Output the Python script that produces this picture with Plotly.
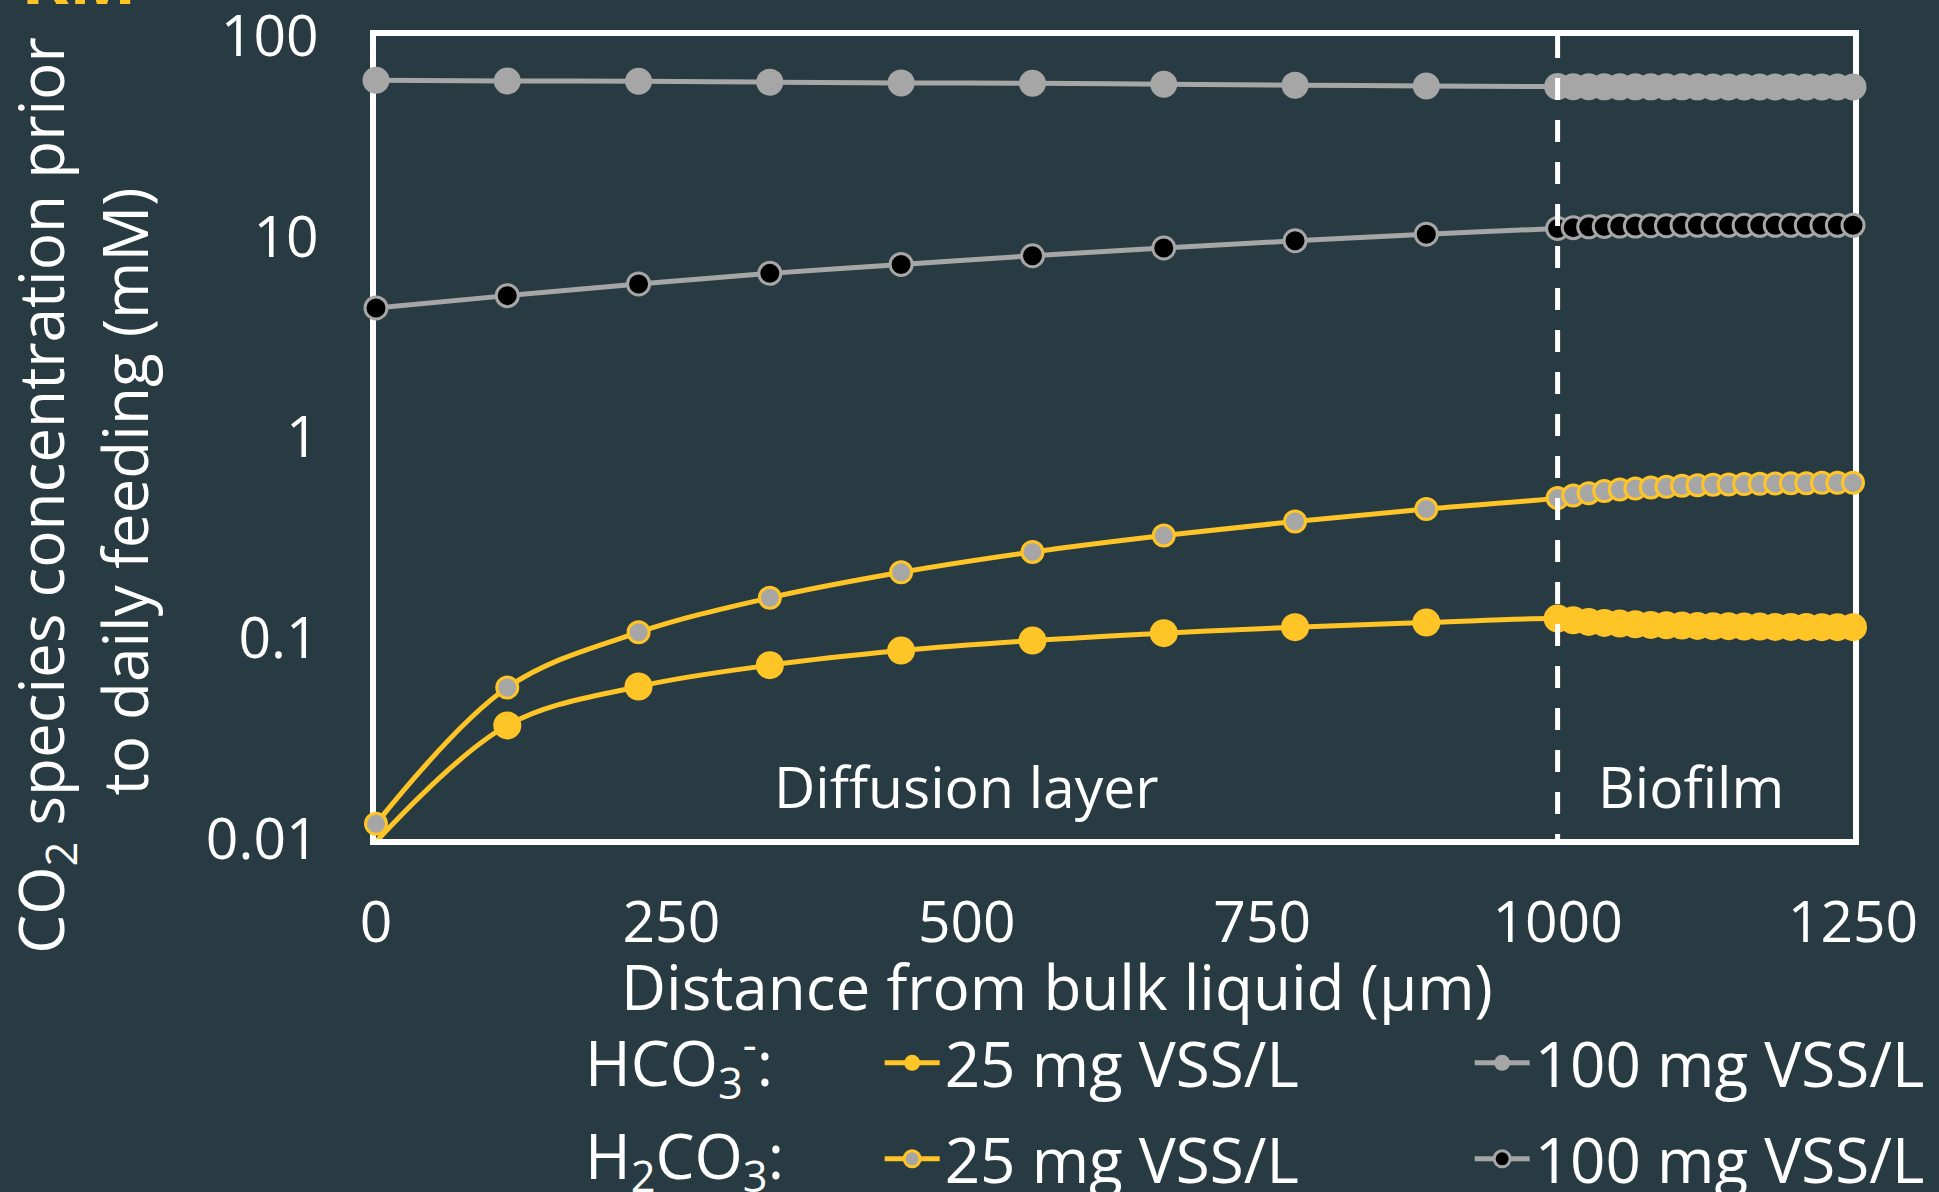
import plotly.graph_objects as go

# ---------------- data ----------------
distance_diffusion = [0, 111.1, 222.2, 333.3, 444.4, 555.6, 666.7, 777.8, 888.9, 1000]
distance_biofilm = [1013.2, 1026.3, 1039.5, 1052.6, 1065.8, 1078.9, 1092.1, 1105.3, 1118.4,
                    1131.6, 1144.7, 1157.9, 1171.1, 1184.2, 1197.4, 1210.5, 1223.7, 1236.8, 1250]

hco3_25_diffusion = [0.0097, 0.0368, 0.0575, 0.0734, 0.0868, 0.0974, 0.106, 0.1135, 0.1197, 0.1253]
hco3_25_biofilm = [0.1229, 0.1206, 0.1192, 0.1184, 0.1174, 0.1165, 0.1161, 0.1157, 0.1152, 0.1148,
                   0.1148, 0.1144, 0.1144, 0.1139, 0.1139, 0.1139, 0.1135, 0.1135, 0.1135]

hco3_100_diffusion = [60.2, 59.7, 59.5, 58.9, 58.4, 58.2, 57.5, 56.9, 56.4, 56.0]
hco3_100_biofilm = [55.9, 55.9, 55.8, 55.8, 55.8, 55.8, 55.8, 55.8, 55.8, 55.7,
                    55.7, 55.7, 55.7, 55.7, 55.7, 55.7, 55.7, 55.7, 55.7]

h2co3_25_diffusion = [0.0119, 0.0568, 0.107, 0.159, 0.213, 0.269, 0.325, 0.382, 0.440, 0.499]
h2co3_25_biofilm = [0.514, 0.528, 0.541, 0.551, 0.557, 0.564, 0.568, 0.575, 0.579, 0.582,
                    0.584, 0.586, 0.588, 0.590, 0.592, 0.592, 0.595, 0.595, 0.595]

h2co3_100_diffusion = [4.42, 5.09, 5.82, 6.57, 7.28, 8.04, 8.79, 9.55, 10.3, 11.0]
h2co3_100_biofilm = [11.1, 11.2, 11.25, 11.3, 11.3, 11.35, 11.35, 11.4, 11.4, 11.4,
                     11.4, 11.4, 11.4, 11.4, 11.4, 11.4, 11.4, 11.4, 11.4]

x_ticks = [0, 250, 500, 750, 1000, 1250]
y_ticks = [0.01, 0.1, 1, 10, 100]
y_tick_labels = ["0.01", "0.1", "1", "10", "100"]
boundary = 1000
series_names = ["25 mg VSS/L", "100 mg VSS/L"]

# ---------------- style ----------------
BG = "#293b42"
YELLOW = "#ffc425"
GRAY = "#a6a6a6"
BLACK = "#000000"
FONT = "Open Sans"

distance = distance_diffusion + distance_biofilm
y_min = min(y_ticks)


def sizes_for(values, size):
    # like Excel: markers below the axis minimum are not drawn
    return [size if v >= y_min else 0 for v in values]


fig = go.Figure()


def add(values, name, legend, line_color, fill, size, border_color, border_w, entry_w=None):
    fig.add_trace(go.Scatter(
        x=distance, y=values, name=name, legend=legend, legendwidth=entry_w,
        mode="lines+markers",
        line=dict(color=line_color, width=5, shape="spline", smoothing=1),
        marker=dict(size=sizes_for(values, size), color=fill, opacity=1,
                    line=dict(color=border_color, width=border_w)),
        cliponaxis=False,
    ))


add(hco3_25_diffusion + hco3_25_biofilm, series_names[0], "legend", YELLOW, YELLOW, 28, YELLOW, 0, 520)
add(hco3_100_diffusion + hco3_100_biofilm, series_names[1], "legend", GRAY, GRAY, 27, GRAY, 0)
add(h2co3_25_diffusion + h2co3_25_biofilm, series_names[0], "legend2", YELLOW, GRAY, 21, YELLOW, 3, 520)
add(h2co3_100_diffusion + h2co3_100_biofilm, series_names[1], "legend2", GRAY, BLACK, 22, GRAY, 3)

axis_common = dict(showgrid=False, zeroline=False, showline=True, linecolor="white",
                   linewidth=6, mirror=True, ticks="", layer="below traces",
                   ticklabeloverflow="allow",
                   tickfont=dict(family=FONT, size=57, color="white"))

legend_common = dict(orientation="h", xanchor="left", yanchor="middle",
                     itemwidth=55, bgcolor="rgba(0,0,0,0)",
                     font=dict(family=FONT, size=62, color="white"))

fig.update_layout(
    width=1939, height=1192,
    margin=dict(l=376, r=86, t=36, b=353, pad=0, autoexpand=False),
    paper_bgcolor=BG, plot_bgcolor=BG,
    font=dict(family=FONT, color="white", size=60),
    xaxis=dict(range=[0, 1250], tickvals=x_ticks, ticklabelstandoff=29, **axis_common),
    yaxis=dict(type="log", range=[-2, 2], tickvals=y_ticks, ticktext=y_tick_labels,
               ticklabelstandoff=40, **axis_common),
    legend=dict(x=0.341, y=-0.279, **legend_common),
    legend2=dict(x=0.341, y=-0.3985, **legend_common),
    showlegend=True,
)

fig.add_shape(type="line", xref="x", yref="paper", x0=boundary, x1=boundary, y0=1, y1=0,
              line=dict(color="white", width=5, dash="22px,20px"))

ann = dict(showarrow=False, font=dict(family=FONT, size=62, color="white"))
ann57 = dict(showarrow=False, font=dict(family=FONT, size=57, color="white"))
fig.add_annotation(text="CO<sub>2</sub> species concentration prior",
                   xref="paper", yref="paper", x=-0.2245, y=0.428, textangle=-90,
                   xanchor="center", yanchor="middle", **ann)
fig.add_annotation(text="to daily feeding (mM)",
                   xref="paper", yref="paper", x=-0.1705, y=0.433, textangle=-90,
                   xanchor="center", yanchor="middle", **ann)
fig.add_annotation(text="Distance from bulk liquid (\u03bcm)", xref="paper", yref="paper",
                   x=0.461, y=-0.183, xanchor="center", yanchor="middle", **ann)
fig.add_annotation(text="Diffusion layer", xref="x", yref="paper", x=500, y=0.066,
                   xanchor="center", yanchor="middle", **ann57)
fig.add_annotation(text="Biofilm", xref="x", yref="paper", x=1113, y=0.066,
                   xanchor="center", yanchor="middle", **ann57)
fig.add_annotation(text="HCO<sub>3</sub><sup>-</sup>:", xref="paper", yref="paper",
                   x=0.1402, y=-0.279, xanchor="left", yanchor="middle", **ann)
fig.add_annotation(text="H<sub>2</sub>CO<sub>3</sub>:", xref="paper", yref="paper",
                   x=0.1402, y=-0.3985, xanchor="left", yanchor="middle", **ann)
fig.add_annotation(text="<b>KM</b>", xref="paper", yref="paper", x=-0.242, y=1.0112,
                   xanchor="left", yanchor="bottom", showarrow=False,
                   font=dict(family=FONT, size=72, color=YELLOW))

fig.write_html("out.html")
